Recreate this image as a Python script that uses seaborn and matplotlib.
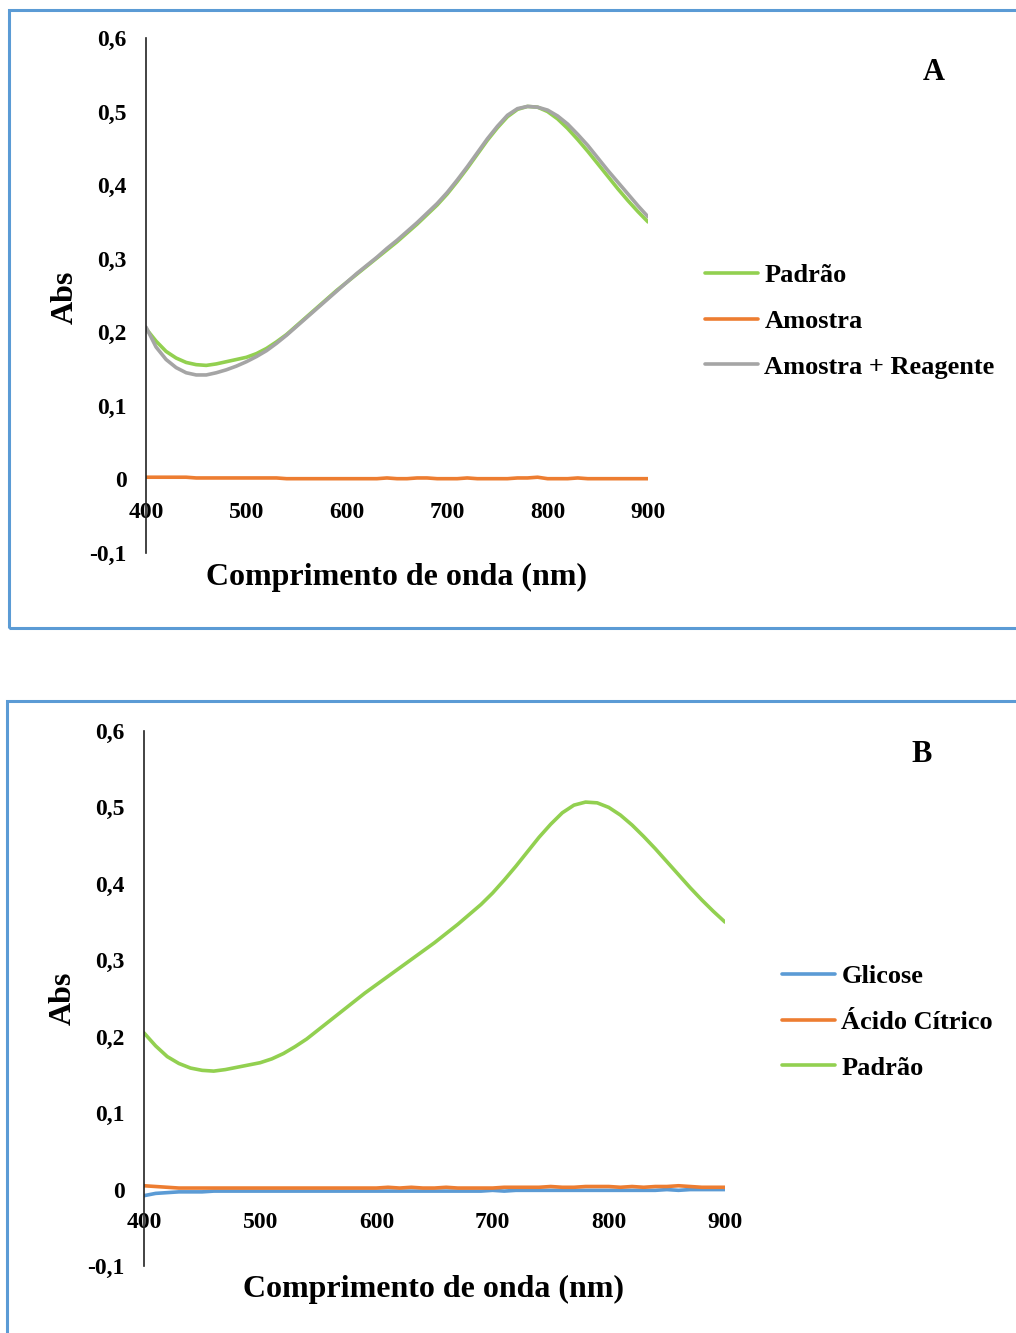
import matplotlib
matplotlib.use("Agg")
import matplotlib.pyplot as plt
import seaborn as sns
import pandas as pd
from matplotlib.patches import Rectangle

# ---------------- data ----------------
wavelength = [400, 410, 420, 430, 440, 450, 460, 470, 480, 490,
              500, 510, 520, 530, 540, 550, 560, 570, 580, 590,
              600, 610, 620, 630, 640, 650, 660, 670, 680, 690,
              700, 710, 720, 730, 740, 750, 760, 770, 780, 790,
              800, 810, 820, 830, 840, 850, 860, 870, 880, 890, 900]

padrao = [0.205, 0.188, 0.174, 0.165, 0.159, 0.156, 0.155, 0.157, 0.160, 0.163,
          0.166, 0.171, 0.178, 0.187, 0.197, 0.209, 0.221, 0.233, 0.245, 0.257,
          0.268, 0.279, 0.290, 0.301, 0.312, 0.323, 0.335, 0.347, 0.360, 0.373,
          0.388, 0.405, 0.423, 0.442, 0.461, 0.478, 0.493, 0.503, 0.507, 0.506,
          0.500, 0.490, 0.477, 0.462, 0.446, 0.429, 0.412, 0.395, 0.379, 0.364, 0.350]

amostra = [0.003, 0.003, 0.003, 0.003, 0.003, 0.002, 0.002, 0.002, 0.002, 0.002,
           0.002, 0.002, 0.002, 0.002, 0.001, 0.001, 0.001, 0.001, 0.001, 0.001,
           0.001, 0.001, 0.001, 0.001, 0.002, 0.001, 0.001, 0.002, 0.002, 0.001,
           0.001, 0.001, 0.002, 0.001, 0.001, 0.001, 0.001, 0.002, 0.002, 0.003,
           0.001, 0.001, 0.001, 0.002, 0.001, 0.001, 0.001, 0.001, 0.001, 0.001, 0.001]

amostra_reagente = [0.207, 0.180, 0.163, 0.152, 0.145, 0.142, 0.142, 0.145, 0.149, 0.154,
                    0.160, 0.167, 0.175, 0.185, 0.196, 0.208, 0.220, 0.232, 0.244, 0.256,
                    0.268, 0.280, 0.291, 0.302, 0.314, 0.325, 0.337, 0.349, 0.362, 0.375,
                    0.390, 0.407, 0.425, 0.444, 0.463, 0.480, 0.495, 0.504, 0.507, 0.506,
                    0.502, 0.494, 0.483, 0.469, 0.454, 0.437, 0.420, 0.404, 0.388, 0.372, 0.357]

glicose = [-0.008, -0.005, -0.004, -0.003, -0.003, -0.003, -0.002, -0.002, -0.002, -0.002,
           -0.002, -0.002, -0.002, -0.002, -0.002, -0.002, -0.002, -0.002, -0.002, -0.002,
           -0.002, -0.002, -0.002, -0.002, -0.002, -0.002, -0.002, -0.002, -0.002, -0.002,
           -0.001, -0.002, -0.001, -0.001, -0.001, -0.001, -0.001, -0.001, -0.001, -0.001,
           -0.001, -0.001, -0.001, -0.001, -0.001, 0.000, -0.001, 0.000, 0.000, 0.000, 0.000]

acido_citrico = [0.005, 0.004, 0.003, 0.002, 0.002, 0.002, 0.002, 0.002, 0.002, 0.002,
                 0.002, 0.002, 0.002, 0.002, 0.002, 0.002, 0.002, 0.002, 0.002, 0.002,
                 0.002, 0.003, 0.002, 0.003, 0.002, 0.002, 0.003, 0.002, 0.002, 0.002,
                 0.002, 0.003, 0.003, 0.003, 0.003, 0.004, 0.003, 0.003, 0.004, 0.004,
                 0.004, 0.003, 0.004, 0.003, 0.004, 0.004, 0.005, 0.004, 0.003, 0.003, 0.003]

series_a = ["Padrão", "Amostra", "Amostra + Reagente"]
series_b = ["Glicose", "Ácido Cítrico", "Padrão"]

x_ticks = [400, 500, 600, 700, 800, 900]
x_tick_labels = ["400", "500", "600", "700", "800", "900"]
y_ticks = [-0.1, 0.0, 0.1, 0.2, 0.3, 0.4, 0.5, 0.6]
y_tick_labels = ["-0,1", "0", "0,1", "0,2", "0,3", "0,4", "0,5", "0,6"]

x_label = "Comprimento de onda (nm)"
y_label = "Abs"

colors = {"Padrão": "#92D050", "Amostra": "#ED7D31", "Amostra + Reagente": "#A5A5A5",
          "Glicose": "#5B9BD5", "Ácido Cítrico": "#ED7D31"}

# ---------------- frames ----------------
def long_df(names, values):
    rows = []
    for n, v in zip(names, values):
        for w, a in zip(wavelength, v):
            rows.append({"Comprimento": w, "Abs": a, "Série": n})
    return pd.DataFrame(rows)

df_a = long_df(series_a, [padrao, amostra, amostra_reagente])
df_b = long_df(series_b, [glicose, acido_citrico, padrao])

# ---------------- style ----------------
sns.set_theme(style="white")
plt.rcParams["font.family"] = ["Liberation Serif", "DejaVu Serif"]
plt.rcParams["font.weight"] = "bold"
plt.rcParams["text.color"] = "black"
plt.rcParams["axes.labelcolor"] = "black"
plt.rcParams["xtick.color"] = "black"
plt.rcParams["ytick.color"] = "black"

W, H = 1016, 1333
fig = plt.figure(figsize=(W / 100, H / 100), dpi=100)

# panel borders
border_col = "#5B9BD5"
fig.patches.append(Rectangle((9 / W, 1 - 628 / H), (1040 - 9) / W, (628 - 10) / H,
                             transform=fig.transFigure, fill=False,
                             edgecolor=border_col, linewidth=2.2, zorder=0))
fig.patches.append(Rectangle((7 / W, 1 - 1360 / H), (1040 - 7) / W, (1360 - 701) / H,
                             transform=fig.transFigure, fill=False,
                             edgecolor=border_col, linewidth=2.2, zorder=0))


def make_panel(rect, df, order, letter, letter_xy, legend_xy, xl_coords, yl_coords):
    ax = fig.add_axes(rect)
    sns.lineplot(data=df, x="Comprimento", y="Abs", hue="Série", hue_order=order,
                 palette=colors, linewidth=2.6, ax=ax, sort=True)
    for s in ["top", "right"]:
        ax.spines[s].set_visible(False)
    ax.spines["bottom"].set_position(("data", 0))
    ax.spines["bottom"].set_visible(False)
    ax.spines["left"].set_color("#222222")
    ax.spines["left"].set_linewidth(1.2)
    ax.set_xlim(400, 900)
    ax.set_ylim(-0.1, 0.6)
    ax.set_xticks(x_ticks, labels=x_tick_labels, fontsize=17, fontweight="bold")
    ax.set_yticks(y_ticks, labels=y_tick_labels, fontsize=17, fontweight="bold")
    ax.tick_params(axis="both", length=0, colors="black")
    ax.tick_params(axis="x", pad=16)
    ax.tick_params(axis="y", pad=14)
    ax.set_facecolor("none")
    ax.set_xlabel(x_label, fontsize=23, fontweight="bold", color="black")
    ax.set_ylabel(y_label, fontsize=23, fontweight="bold", color="black")
    ax.xaxis.set_label_coords(*xl_coords)
    ax.yaxis.set_label_coords(*yl_coords)
    handles, labels = ax.get_legend_handles_labels()
    ax.legend(handles, labels, loc="center left",
              bbox_to_anchor=legend_xy, bbox_transform=fig.transFigure,
              frameon=False, fontsize=19, handlelength=2.0, handletextpad=0.25,
              labelspacing=0.85, borderpad=0, borderaxespad=0)
    for line in ax.get_legend().get_lines():
        line.set_linewidth(2.6)
    for t in ax.get_legend().get_texts():
        t.set_color("black")
    fig.text(letter_xy[0], letter_xy[1], letter, fontsize=22, fontweight="bold",
             ha="center", va="center", color="black")
    return ax


# panel A
make_panel([146 / W, 1 - 553 / H, (648 - 146) / W, (553 - 38) / H], df_a, series_a,
           "A", (934 / W, 1 - 72 / H), (705 / W, 1 - 321 / H),
           (0.5, -0.02), (-0.131, 0.497))

# panel B
make_panel([144 / W, 1 - 1266 / H, (725 - 144) / W, (1266 - 731) / H], df_b, series_b,
           "B", (922 / W, 1 - 754 / H), (782 / W, 1 - 1022 / H),
           (0.499, -0.017), (-0.114, 0.501))

fig.savefig("out.png", dpi=100, facecolor="white")
